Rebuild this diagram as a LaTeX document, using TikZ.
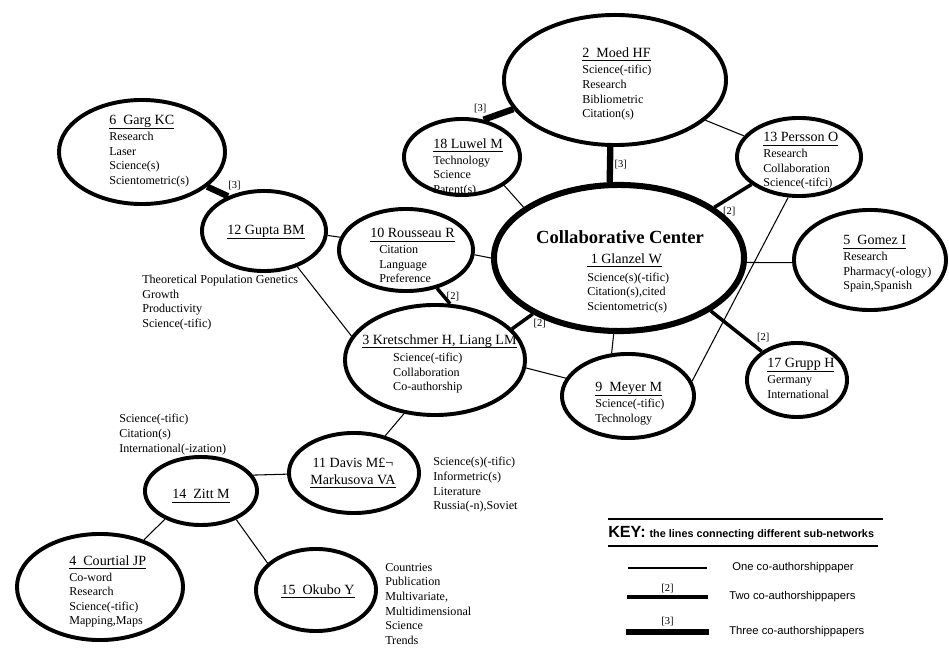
\documentclass[tikz,border=0pt]{standalone}
\usepackage{fontspec}
\setmainfont{Liberation Serif}
\setsansfont{Liberation Sans}
\usetikzlibrary{shapes.geometric}

% underlined author name, rule kept close under the descenders
\newcommand{\who}[1]{{\fontsize{10}{10.4}\selectfont\setbox0\hbox{#1}\rlap{\rule[-2.6pt]{\wd0}{0.5pt}}\box0}}

\begin{document}
\begin{tikzpicture}[
    x=0.025cm, y=-0.025cm,
    author/.style={ellipse, draw=black, line width=2.8pt, inner sep=0pt},
    hub/.style={ellipse, draw=black, line width=4.3pt, inner sep=0pt},
    ellsize/.style 2 args={minimum width=#1*0.025cm-2.8pt, minimum height=#2*0.025cm-2.8pt},
    words/.style={font=\fontsize{8.6}{10.4}\selectfont, align=left, anchor=north west, inner sep=0pt},
    headline/.style={font=\fontsize{10}{12}\selectfont, align=center, inner sep=0pt},
    one/.style={line width=0.75pt},
    two/.style={line width=2.5pt},
    three/.style={line width=4.5pt},
    tag/.style={font=\fontsize{7.5}{8}\selectfont, inner sep=1pt},
    keytext/.style={font=\sffamily\fontsize{8}{9}\selectfont, anchor=west, inner sep=0pt}
]
    \useasboundingbox (0,0) rectangle (949,648);

    % sub-networks
    \node[hub, ellsize={254}{150}] (glanzel) at (619,258) {};
    \node[author, ellsize={226}{134}] (moed) at (615,80) {};
    \node[author, ellsize={120}{80}] (luwel) at (462,157) {};
    \node[author, ellsize={128}{82}] (persson) at (799,157) {};
    \node[author, ellsize={156}{104}] (gomez) at (870,260) {};
    \node[author, ellsize={136}{88}] (meyer) at (628,396) {};
    \node[author, ellsize={104}{78}] (grupp) at (797,380) {};
    \node[author, ellsize={184}{114}] (kret) at (435,360) {};
    \node[author, ellsize={138}{86}] (rousseau) at (406,250) {};
    \node[author, ellsize={128}{84}] (gupta) at (264,231) {};
    \node[author, ellsize={170}{108}] (garg) at (142,152) {};
    \node[author, ellsize={134}{84}] (davis) at (354,473) {};
    \node[author, ellsize={116}{72}] (zitt) at (201,491) {};
    \node[author, ellsize={170}{110}] (courtial) at (100,587) {};
    \node[author, ellsize={124}{86}] (okubo) at (316,590) {};

    % texts
    \node[font=\bfseries\fontsize{13.2}{15}\selectfont, inner sep=0pt] (glanzel-head) at (620,237) {Collaborative Center};
    \node[words] (glanzel-kw) at (587,253) {\who{\ 1 Glanzel W}\\[2.5pt] Science(s)(-tific)\\ Citation(s),cited\\ Scientometric(s)};
    \node[words] (moed-kw) at (582,47) {\who{2\ \ Moed HF}\\[1.5pt] Science(-tific)\\ Research\\ Bibliometric\\ Citation(s)};
    \node[words] (luwel-kw) at (433,138) {\who{18 Luwel M}\\[1pt] Technology\\ Science\\ Patent(s)};
    \node[words] (persson-kw) at (763,132) {\who{13 Persson O}\\[1pt] Research\\ Collaboration\\ Science(-tifci)};
    \node[words] (gomez-kw) at (843,235) {\who{5\ \ Gomez I}\\[1pt] Research\\ Pharmacy(-ology)\\ Spain,Spanish};
    \node[words] (meyer-kw) at (595,382) {\who{9\ \ Meyer M}\\[1pt] Science(-tific)\\ Technology};
    \node[words] (grupp-kw) at (767,358) {\who{17 Grupp H}\\[1pt] Germany\\ International};
    \node[words] (kret-kw) at (362,334) {\who{3 Kretschmer H, Liang LM}\\[2pt]
        \hspace*{22pt}Science(-tific)\\ \hspace*{22pt}Collaboration\\ \hspace*{22pt}Co-authorship};
    \node[words] (rousseau-kw) at (370,228) {\who{10 Rousseau R}\\[1pt]
        \hspace*{6.4pt}Citation\\ \hspace*{6.4pt}Language\\ \hspace*{6.4pt}Preference};
    \node[headline] (gupta-name) at (266,232) {\who{12 Gupta BM}};
    \node[words] (gupta-kw) at (142,275) {Theoretical Population Genetics\\ Growth\\ Productivity\\ Science(-tific)};
    \node[words] (garg-kw) at (109,115) {\who{6\ \ Garg KC}\\[1pt] Research\\ Laser\\ Science(s)\\ Scientometric(s)};
    \node[headline] (davis-name) at (353,473) {11 Davis M£¬\\ \who{Markusova VA}};
    \node[words] (davis-kw) at (433,457) {Science(s)(-tific)\\ Informetric(s)\\ Literature\\ Russia(-n),Soviet};
    \node[headline] (zitt-name) at (201,496) {\who{14\ \ Zitt M}};
    \node[words] (zitt-kw) at (119,414) {Science(-tific)\\ Citation(s)\\ International(-ization)};
    \node[words] (courtial-kw) at (69,555) {\who{4\ \ Courtial JP}\\[1pt] Co-word\\ Research\\ Science(-tific)\\ Mapping,Maps};
    \node[headline] (okubo-name) at (318,591) {\who{15\ \ Okubo Y}};
    \node[words] (okubo-kw) at (385,563) {Countries\\ Publication\\ Multivariate,\\ Multidimensional\\ Science\\ Trends};

    % co-authorship links
    \draw[three] (garg.332) -- (gupta.136) node[tag, pos=.8, above right] {[3]};
    \draw[one] (gupta.356) -- (rousseau.169);
    \draw[one] (gupta.313) -- (kret.164);
    \draw[two] (rousseau.309) -- (kret.75) node[tag, midway, right] {[2]};
    \draw[one] (rousseau.356) -- (glanzel.180);
    \draw[two] (kret.22) -- (glanzel.213) node[tag, pos=.9, below right] {[2]};
    \draw[one] (kret.355) -- (meyer.164);
    \draw[one] (kret.240) -- (davis.50);
    \draw[one] (luwel.326) -- (glanzel.152);
    \draw[three] (moed.196) -- (luwel.60) node[tag, pos=.75, above left] {[3]};
    \draw[three] (moed.266) -- (glanzel.97) node[tag, midway, right] {[3]};
    \draw[one] (moed.336) -- (persson.159);
    \draw[two] (glanzel.28) -- (persson.210) node[tag, pos=.15, below right] {[2]};
    \draw[one] (persson.255) -- (meyer.13);
    \draw[one] (glanzel.358) -- (gomez.182);
    \draw[one] (glanzel.266) -- (meyer.111);
    \draw[two] (glanzel.330) -- (grupp.141) node[tag, pos=.85, above right] {[2]};
    \draw[one] (davis.181) -- (zitt.17);
    \draw[one] (zitt.218) -- (courtial.47);
    \draw[one] (zitt.321) -- (okubo.151);

    % key
    \coordinate (key-top-l) at (608,519);
    \coordinate (key-top-r) at (883,519);
    \coordinate (key-bot-l) at (608,546);
    \coordinate (key-bot-r) at (878,546);
    \draw[line width=1.1pt] (key-top-l) -- (key-top-r);
    \draw[line width=1.1pt] (key-bot-l) -- (key-bot-r);
    \node[anchor=west, inner sep=0pt, font=\sffamily\bfseries] (key-head) at (608,533)
        {{\fontsize{11.5}{12}\selectfont KEY:} {\fontsize{7.7}{9}\selectfont the lines connecting different sub-networks}};
    \coordinate (key-one-a) at (628,568);
    \coordinate (key-one-b) at (707,568);
    \coordinate (key-two-a) at (627,597);
    \coordinate (key-two-b) at (708,597);
    \coordinate (key-three-a) at (626,632);
    \coordinate (key-three-b) at (709,632);
    \draw[one] (key-one-a) -- (key-one-b);
    \draw[two] (key-two-a) -- (key-two-b) node[tag, midway, above=1pt] {[2]};
    \draw[three] (key-three-a) -- (key-three-b) node[tag, midway, above=1pt] {[3]};
    \node[keytext] (key-one) at (732,568) {One co-authorshippaper};
    \node[keytext] (key-two) at (729,597) {Two co-authorshippapers};
    \node[keytext] (key-three) at (729,632) {Three co-authorshippapers};
\end{tikzpicture}
\end{document}
